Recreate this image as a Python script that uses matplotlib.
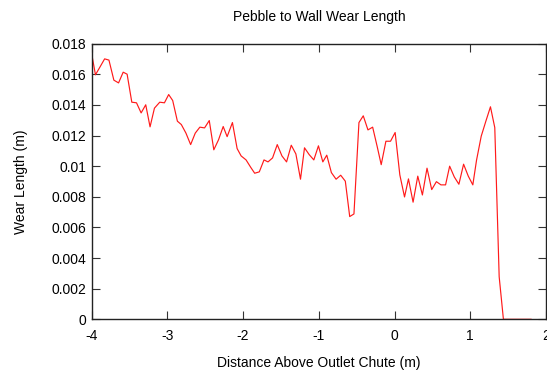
import matplotlib
matplotlib.use("Agg")
import matplotlib.pyplot as plt

# Distance above outlet chute (m)
distance = [-4.000, -3.950, -3.889, -3.829, -3.772, -3.707, -3.645, -3.584, -3.532, -3.470,
            -3.408, -3.347, -3.286, -3.229, -3.171, -3.101, -3.039, -2.983, -2.930, -2.868,
            -2.816, -2.755, -2.693, -2.632, -2.571, -2.509, -2.447, -2.387, -2.325, -2.263,
            -2.211, -2.141, -2.079, -2.026, -1.961, -1.900, -1.847, -1.786, -1.724, -1.671,
            -1.611, -1.549, -1.487, -1.426, -1.364, -1.303, -1.242, -1.189, -1.128, -1.066,
            -1.005, -0.947, -0.895, -0.834, -0.772, -0.711, -0.650, -0.592, -0.536, -0.470,
            -0.413, -0.351, -0.289, -0.229, -0.176, -0.114, -0.053, 0.008, 0.070, 0.132,
            0.184, 0.245, 0.307, 0.368, 0.429, 0.491, 0.553, 0.613, 0.674, 0.728,
            0.789, 0.850, 0.912, 0.974, 1.034, 1.083, 1.145, 1.205, 1.267, 1.324,
            1.382, 1.438, 1.499, 1.560, 1.620, 1.681, 1.742, 1.803]

# Wear length (m)
wear = [0.01734, 0.01597, 0.01649, 0.01701, 0.01693, 0.01562, 0.01544, 0.01614, 0.01601, 0.01418,
        0.01414, 0.01348, 0.01401, 0.01257, 0.01379, 0.01418, 0.01414, 0.01468, 0.01429, 0.01294,
        0.01272, 0.01216, 0.01141, 0.01216, 0.01255, 0.01250, 0.01298, 0.01107, 0.01172, 0.01259,
        0.01193, 0.01285, 0.01115, 0.01067, 0.01041, 0.00993, 0.00954, 0.00963, 0.01041, 0.01028,
        0.01054, 0.01141, 0.01067, 0.01028, 0.01137, 0.01080, 0.00915, 0.01120, 0.01076, 0.01041,
        0.01133, 0.01028, 0.01072, 0.00958, 0.00915, 0.00941, 0.00902, 0.00671, 0.00688, 0.01285,
        0.01329, 0.01237, 0.01255, 0.01128, 0.01010, 0.01163, 0.01163, 0.01220, 0.00943, 0.00799,
        0.00917, 0.00765, 0.00935, 0.00812, 0.00987, 0.00847, 0.00899, 0.00878, 0.00878, 0.01000,
        0.00930, 0.00882, 0.01013, 0.00935, 0.00878, 0.01039, 0.01196, 0.01292, 0.01388, 0.01252,
        0.00278, 0.0, 0.0, 0.0, 0.0, 0.0, 0.0, 0.0]

xticks = [-4, -3, -2, -1, 0, 1, 2]
yticks = [0, 0.002, 0.004, 0.006, 0.008, 0.01, 0.012, 0.014, 0.016, 0.018]
ylabels = ["0", "0.002", "0.004", "0.006", "0.008", "0.01", "0.012", "0.014", "0.016", "0.018"]

plt.rcParams['font.family'] = ['Liberation Sans', 'DejaVu Sans']

fig = plt.figure(figsize=(5.47, 3.72), dpi=100)
ax = fig.add_axes([0.1676, 0.1417, 0.8305, 0.7408])

ax.plot(distance, wear, color='#ff1a1a', linewidth=0.85)

ax.set_xlim(-4, 2)
ax.set_ylim(0, 0.018)
ax.set_xticks(xticks)
ax.set_xticklabels([str(t) for t in xticks])
ax.set_yticks(yticks)
ax.set_yticklabels(ylabels)

ax.tick_params(direction='in', length=6, width=0.8, color='#333333',
               top=True, right=True, labelsize=10)
ax.tick_params(axis='x', pad=7)
ax.tick_params(axis='y', pad=4)
for s in ax.spines.values():
    s.set_linewidth(1.0)
    s.set_color('#222222')

ax.set_title("Pebble to Wall Wear Length", fontsize=10, pad=16)
ax.set_xlabel("Distance Above Outlet Chute (m)", fontsize=10, labelpad=9.5)
ax.set_ylabel("Wear Length (m)", fontsize=10, labelpad=17)

fig.savefig("out.png", dpi=100)
